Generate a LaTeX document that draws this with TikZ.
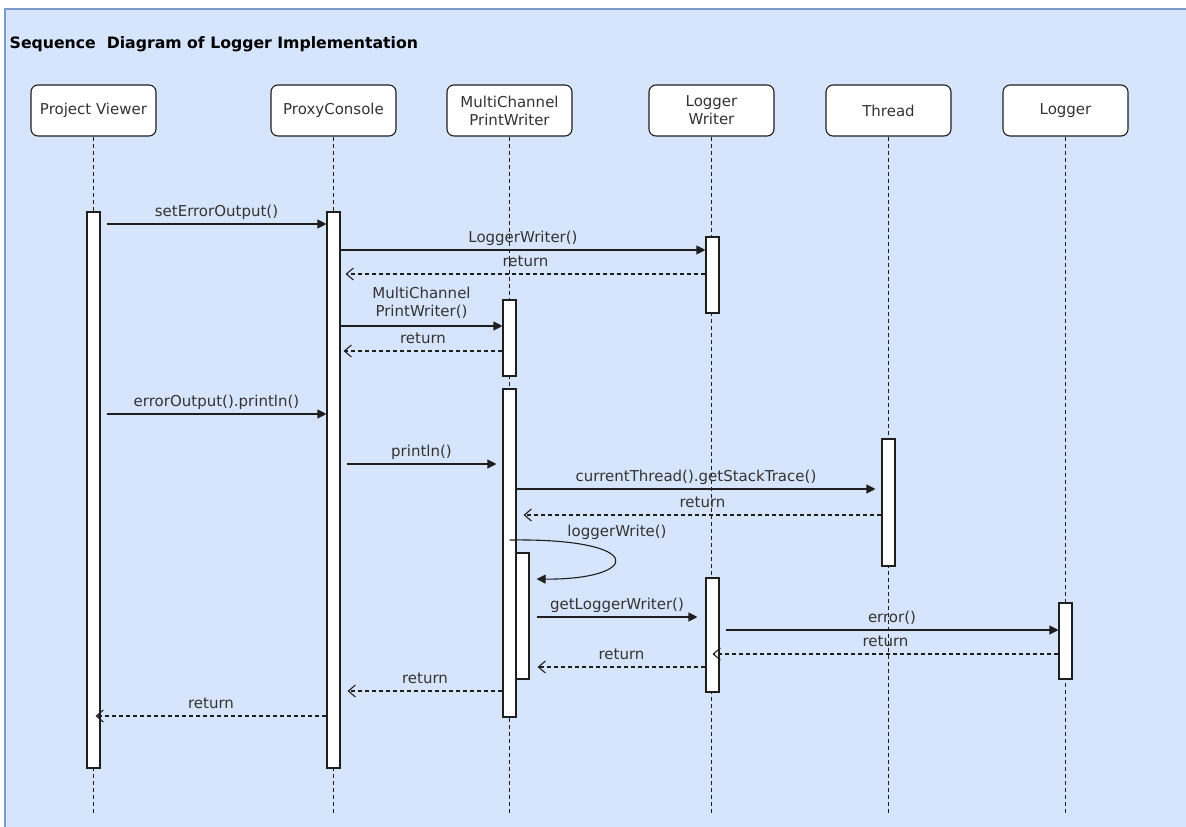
\documentclass[tikz,border=0pt]{standalone}
\usepackage{fontspec}
\setmainfont{DejaVu Sans}
\usetikzlibrary{arrows.meta}
\definecolor{bg}{HTML}{D6E5FB}
\definecolor{bgline}{HTML}{7B9CCB}
\definecolor{ink}{HTML}{1E1E1E}
\definecolor{txt}{HTML}{333333}
\newcommand{\lblsize}{\fontsize{15}{18}\selectfont}
\begin{document}
\begin{tikzpicture}[x=1pt,y=-1pt,
  hdr/.style={draw=ink, fill=white, line width=1.1pt, rounded corners=7pt, minimum width=125pt, minimum height=51pt, inner sep=0pt, align=center, font=\lblsize, text=txt},
  actbar/.style={draw=ink, fill=white, minimum width=13pt, inner sep=0pt, line width=1.1pt},
  life/.style={draw=ink, dash pattern=on 4pt off 3pt, line width=1.1pt},
  msg/.style={draw=ink, line width=1.1pt, -{Triangle[length=9pt,width=9pt]}},
  ret/.style={draw=ink, line width=1.1pt, dash pattern=on 4pt off 3pt, -{Straight Barb[length=7pt,width=12pt]}},
  lbl/.style={font=\lblsize, text=txt, anchor=base, inner sep=0pt, yshift=8pt},
]
\useasboundingbox (0,0) rectangle (1186,827);
\fill[white] (0,0) rectangle (1186,827);
\fill[bg] (5,9) rectangle (1186,827);
\draw[bgline, line width=1.5pt] (5,827) -- (5,9) -- (1186,9);

\node[anchor=base west, inner sep=0pt, font=\bfseries\fontsize{15.7}{18}\selectfont, text=black] (title) at (9.5,48.3) {Sequence\ \ Diagram of Logger Implementation};

% headers
\node[hdr] (h1) at (93.5,110.5) {Project Viewer};
\node[hdr] (h2) at (333.5,110.5) {ProxyConsole};
\node[hdr] (h3) at (509.5,110.5) {MultiChannel\\PrintWriter};
\node[hdr] (h4) at (711.5,110.5) {Logger\\Writer};
\node[hdr] (h5) at (888.5,110.5) {Thread};
\node[hdr] (h6) at (1065.5,110.5) {Logger};

% lifelines
\foreach \h in {h1,h2,h3,h4,h5,h6}
  \draw[life] (\h.south) -- (\h.south |- 0,814);

% activation bars
\node[actbar, minimum height=556pt] (pv1) at (93.5,490) {};
\node[actbar, minimum height=556pt] (pc1) at (333.5,490) {};
\node[actbar, minimum height=76pt] (lw1) at (712.5,275) {};
\node[actbar, minimum height=76pt] (mc1) at (509.5,338) {};
\node[actbar, minimum height=328pt] (mc2) at (509.5,553) {};
\node[actbar, minimum height=126pt] (mcn) at (522.5,616) {};
\node[actbar, minimum height=127pt] (th1) at (888.5,502.5) {};
\node[actbar, minimum height=114pt] (lw2) at (712.5,635) {};
\node[actbar, minimum height=76pt] (lg1) at (1065.5,641) {};

% messages
\draw[msg] ([xshift=6pt]pv1.east |- 0,224) -- (pc1.west |- 0,224) node[lbl, midway] (l1) {setErrorOutput()};
\draw[msg] (pc1.east |- 0,250) -- (lw1.west |- 0,250) node[lbl, midway] (l2) {LoggerWriter()};
\draw[ret] (lw1.west |- 0,274) -- ([xshift=5pt]pc1.east |- 0,274) node[lbl, midway] (l3) {return};
\draw[msg] (pc1.east |- 0,326) -- (mc1.west |- 0,326) node[midway, font=\lblsize, text=txt, align=center, inner sep=0pt, yshift=23pt] (l4) {MultiChannel\\PrintWriter()};
\draw[ret] (mc1.west |- 0,351) -- ([xshift=3pt]pc1.east |- 0,351) node[lbl, midway] (l5) {return};
\draw[msg] ([xshift=6pt]pv1.east |- 0,414) -- (pc1.west |- 0,414) node[lbl, midway] (l6) {errorOutput().println()};
\draw[msg] ([xshift=6pt]pc1.east |- 0,464) -- ([xshift=-6pt]mc2.west |- 0,464) node[lbl, midway] (l7) {println()};
\draw[msg] (mc2.east |- 0,489) -- ([xshift=-6pt]th1.west |- 0,489) node[lbl, midway] (l8) {currentThread().getStackTrace()};
\draw[ret] (th1.west |- 0,515) -- ([xshift=7pt]mc2.east |- 0,515) node[lbl, midway] (l9) {return};
\draw[msg] (mc2.center |- 0,540) .. controls (650,538) and (640,580) .. ([xshift=7pt]mcn.east |- 0,579);
\node[font=\lblsize, text=txt, inner sep=0pt] (l10) at (617,532) {loggerWrite()};
\draw[msg] ([xshift=7pt]mcn.east |- 0,617) -- ([xshift=-8pt]lw2.west |- 0,617) node[lbl, midway] (l11) {getLoggerWriter()};
\draw[msg] ([xshift=6pt]lw2.east |- 0,630) -- (lg1.west |- 0,630) node[lbl, midway] (l12) {error()};
\draw[ret] (lg1.west |- 0,654) -- (lw2.center |- 0,654) node[lbl, midway] (l13) {return};
\draw[ret] (lw2.west |- 0,667) -- ([xshift=8pt]mcn.east |- 0,667) node[lbl, midway] (l14) {return};
\draw[ret] (mc2.west |- 0,691) -- ([xshift=7pt]pc1.east |- 0,691) node[lbl, midway] (l15) {return};
\draw[ret] (pc1.west |- 0,716) -- ([xshift=2pt]pv1.center |- 0,716) node[lbl, midway] (l16) {return};
\end{tikzpicture}
\end{document}
